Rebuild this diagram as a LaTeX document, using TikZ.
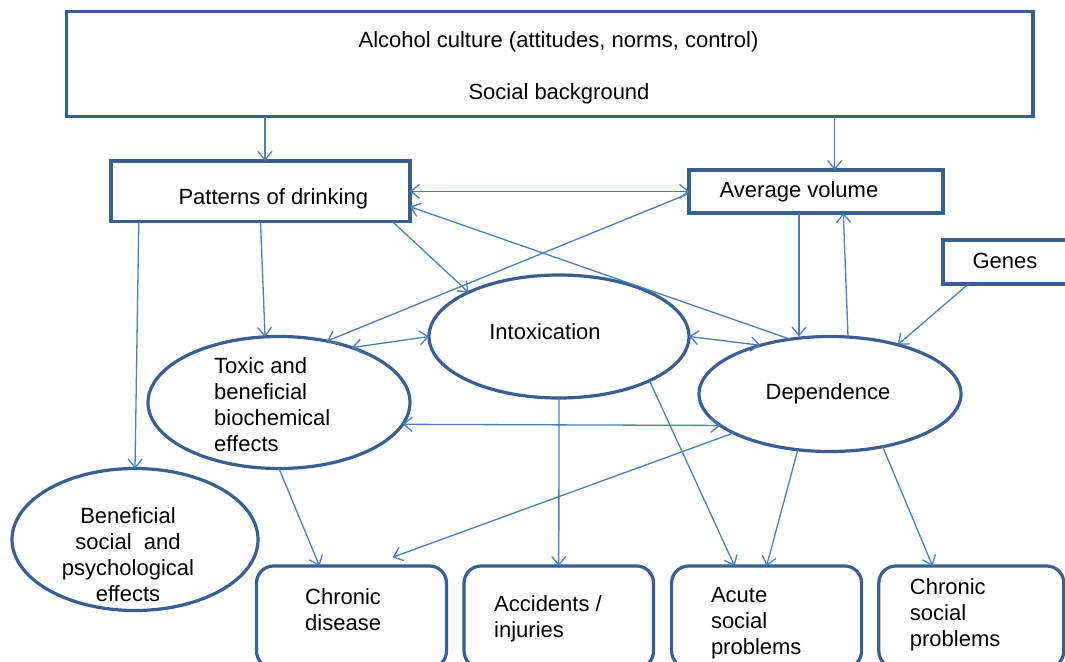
\documentclass[tikz,border=0pt]{standalone}
\usepackage{fontspec}
\setmainfont{Liberation Sans}
\usetikzlibrary{arrows.meta,shapes.geometric}
\definecolor{boxc}{HTML}{3A5F8F}
\definecolor{arrc}{HTML}{4A7EBB}
\begin{document}
\begin{tikzpicture}[x=1pt,y=-1pt,
  box/.style={draw=boxc, line width=3.2pt, rectangle, inner sep=0pt, outer sep=0pt},
  rbox/.style={box, rounded corners=17pt},
  ell/.style={draw=boxc, line width=3.2pt, ellipse, inner sep=0pt, outer sep=0pt},
  lbl/.style={inner sep=0pt, font=\fontsize{22}{26}\selectfont, text=black},
  tipb/.tip={Straight Barb[length=8.5pt,width=14pt]},
  arr/.style={draw=arrc, line width=1.3pt, -tipb},
  darr/.style={draw=arrc, line width=1.3pt, tipb-tipb}]
\useasboundingbox (0,0) rectangle (1065,661);
\clip (0,0) rectangle (1065,661);
\fill[white] (0,0) rectangle (1065,661);

% boxes
\node[box, minimum width=966.5pt, minimum height=105pt] (top) at (549.75,64.2) {};
\node[box, minimum width=299pt, minimum height=60.7pt] (pat) at (260.5,191.3) {};
\node[box, minimum width=254pt, minimum height=43pt] (av) at (816,191.5) {};
\node[box, minimum width=132pt, minimum height=44pt] (genes) at (1009,262) {};
% ellipses
\node[ell, minimum width=260pt, minimum height=123pt] (intox) at (559,336.5) {};
\node[ell, minimum width=262pt, minimum height=132pt] (tox) at (279,402.5) {};
\node[ell, minimum width=262pt, minimum height=115pt] (dep) at (830,394) {};
\node[ell, minimum width=246pt, minimum height=142pt] (ben) at (135,539.5) {};
% outcome boxes
\node[rbox, minimum width=190pt, minimum height=102pt] (cd) at (351.5,617) {};
\node[rbox, minimum width=189.5pt, minimum height=102pt] (acc) at (558.8,617) {};
\node[rbox, minimum width=190pt, minimum height=102pt] (acu) at (766.6,617) {};
\node[rbox, minimum width=185pt, minimum height=102pt] (cs) at (971.3,617) {};

% labels
\node[lbl] (tAlc) at (558.5,42.3) {Alcohol culture (attitudes, norms, control)};
\node[lbl] (tSoc) at (559,94.3) {Social background};
\node[lbl] (tPat) at (273.3,199.3) {Patterns of drinking};
\node[lbl] (tAv) at (799,192.3) {Average volume};
\node[lbl] (tGenes) at (1005,261.3) {Genes};
\node[lbl] (tIntox) at (545,332) {Intoxication};
\node[lbl] (tDep) at (828,393.7) {Dependence};
\node[lbl, align=left, anchor=west] (tTox) at (214,405) {Toxic and\\beneficial\\biochemical\\effects};
\node[lbl, align=center] (tBen) at (128,554.8) {Beneficial\\social\ \ and\\psychological\\effects};
\node[lbl, align=left, anchor=west] (tCD) at (305,609.2) {Chronic\\disease};
\node[lbl, align=left, anchor=west] (tAcc) at (494,619.2) {Accidents /\\injuries};
\node[lbl, align=left, anchor=west] (tAcu) at (710.8,623.3) {Acute\\social\\problems};
\node[lbl, align=left, anchor=west] (tCS) at (909.7,614.5) {Chronic\\social\\problems};

% connectors
\draw[arr] ([xshift=4.5pt]pat.north |- top.south) -- ([xshift=4.5pt]pat.north);
\draw[arr] ([xshift=18.7pt]av.north |- top.south) -- ([xshift=18.7pt]av.north);
\draw[darr] (pat.east) -- (pat.east -| av.west);
\draw[arr] (dep.126) -- ([yshift=-15.4pt]pat.east);
\draw[arr] ([xshift=132pt]pat.south) -- (intox.154);
\draw[arr] ([yshift=-2pt]av.west) -- (tox.52);
\draw[arr] (pat.south) -- (tox.102);
\draw[arr] ([xshift=-121.7pt]pat.south) -- (ben.north);
\draw[darr] (tox.37) -- (intox.west);
\draw[darr] (intox.east) -- (dep.145);
\draw[darr] (tox.-10) -- (dep.196);
\draw[arr] ([xshift=-17pt]av.south) -- ([xshift=-17pt]av.south |- dep.north);
\draw[arr] ([xshift=18pt]dep.north) -- ([xshift=27.3pt]av.south);
\draw[arr] ([xshift=-40.6pt]genes.south) -- (dep.36);
\draw[arr] (tox.south) -- ([xshift=-32pt]cd.north);
\draw[arr] (dep.202) -- ([xshift=41pt,yshift=8.7pt]cd.north);
\draw[arr] (intox.south) -- (acc.north);
\draw[arr] (intox.-26) -- ([xshift=-32pt]acu.north);
\draw[arr] (dep.240) -- (acu.north);
\draw[arr] (dep.-45) -- ([xshift=-38.7pt]cs.north);
\end{tikzpicture}
\end{document}
